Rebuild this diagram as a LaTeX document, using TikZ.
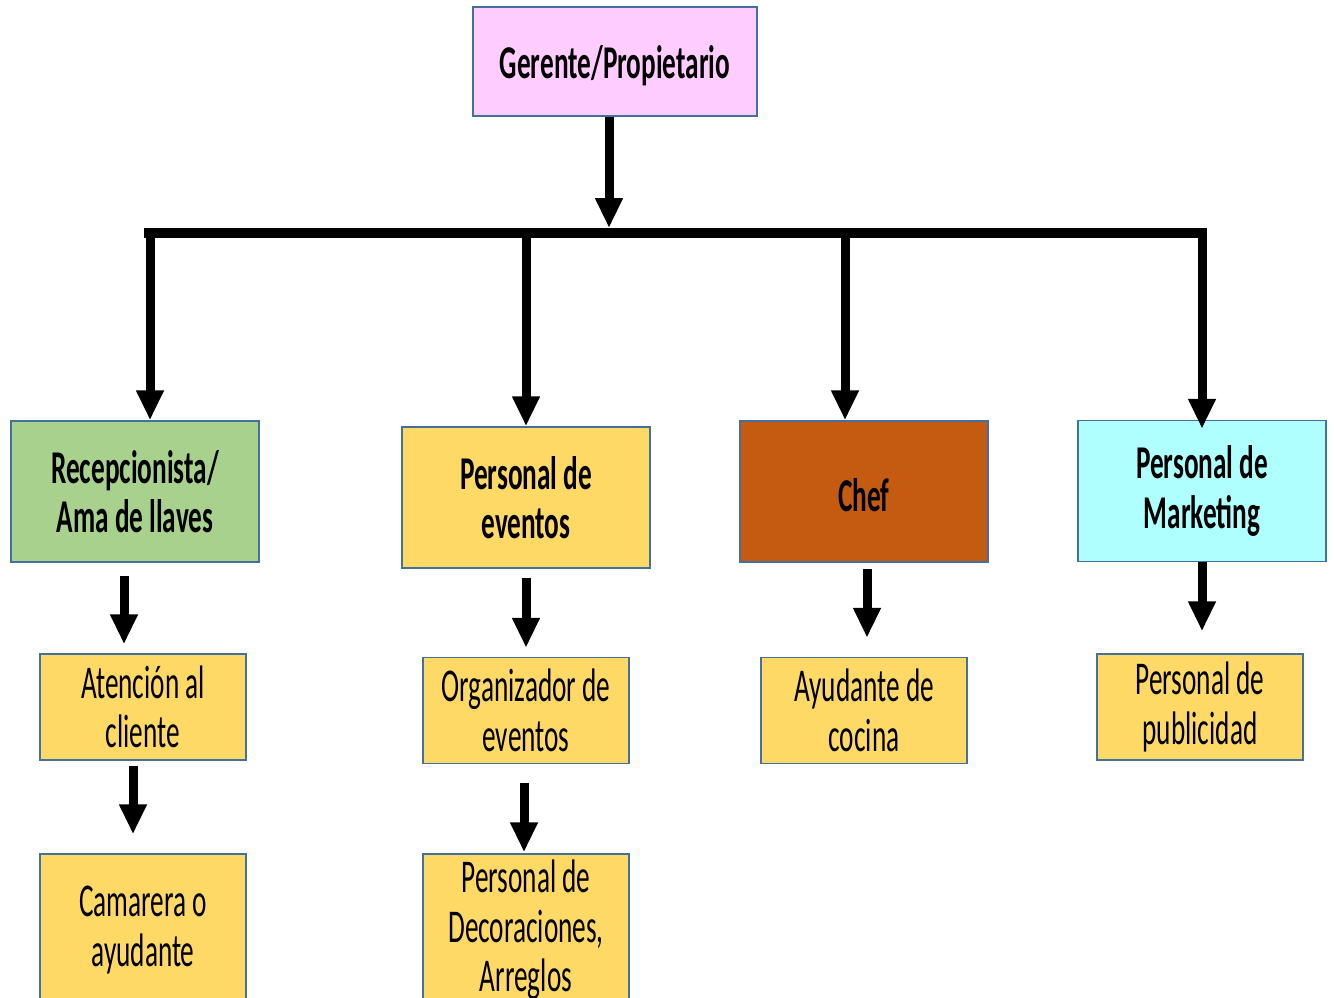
\documentclass[tikz,border=0pt]{standalone}
\usepackage{fontspec}
\setmainfont{Carlito}[FakeStretch=0.58]
\usepackage{xcolor}
\usetikzlibrary{arrows.meta}
\definecolor{edgeblue}{HTML}{41719C}
\definecolor{ownerpink}{HTML}{FFCCFF}
\definecolor{frontgreen}{HTML}{A9D18E}
\definecolor{staffyellow}{HTML}{FFD966}
\definecolor{chefbrown}{HTML}{C55A11}
\definecolor{mktcyan}{HTML}{AFFFFF}

\begin{document}
\begin{tikzpicture}[
  x=1pt, y=-1pt,
  >={Triangle[width=26pt,length=30pt]},
  box/.style={rectangle, draw=edgeblue, line width=1.5pt, inner sep=0pt, align=center,
    font=\fontsize{47}{49.5}\selectfont, execute at begin node={\rule{0pt}{41pt}}},
  head/.style={box, minimum width=248pt, minimum height=141pt, font=\fontsize{47}{49.5}\selectfont\bfseries},
  task/.style={box, fill=staffyellow, minimum width=206pt, minimum height=106pt},
  flow/.style={->, draw=black, line width=9pt},
  bus/.style={draw=black, line width=10pt}
]
  \useasboundingbox (0,0) rectangle (1334,997);
  \clip (0,0) rectangle (1334,997);

  \node[head, fill=ownerpink, minimum width=284pt, minimum height=109pt] (owner) at (615,61.5) {Gerente/Propietario};

  \node[head, fill=frontgreen] (recep) at (135,491.5) {Recepcionista/\\Ama de llaves};
  \node[head, fill=staffyellow] (events) at (526,497.5) {Personal de\\eventos};
  \node[head, fill=chefbrown] (chef) at (864,491.5) {Chef};
  \node[head, fill=mktcyan] (mkt) at (1202,491) {Personal de\\Marketing};

  \node[task] (guest) at (143,707) {Atención al\\cliente};
  \node[task] (planner) at (526,710.5) {Organizador de\\eventos};
  \node[task] (cook) at (864,710.5) {Ayudante de\\cocina};
  \node[task] (adverts) at (1200,707) {Personal de\\publicidad};

  \node[task, minimum height=152pt] (maid) at (143,930) {Camarera o\\ayudante};
  \node[task, minimum height=152pt] (decor) at (526,930) {Personal de\\Decoraciones,\\Arreglos};

  \coordinate (busL) at (144,233);
  \coordinate (busR) at (1207,233);
  \draw[bus] (busL) -- (busR);

  \draw[flow, shorten >=5pt] ([xshift=-6pt]owner.south) -- ([xshift=-6pt]owner.south |- busL);

  \draw[flow] ([xshift=15pt]recep.north |- busL) -- ([xshift=15pt]recep.north);
  \draw[flow] (events.north |- busL) -- (events.north);
  \draw[flow] ([xshift=-19pt]chef.north |- busL) -- ([xshift=-19pt]chef.north);
  \draw[flow, shorten >=-9pt] (mkt.north |- busL) -- (mkt.north);

  \draw[flow, shorten <=13pt, shorten >=9pt] ([xshift=-11pt]recep.south) -- ([xshift=-11pt]recep.south |- guest.north);
  \draw[flow, shorten <=5pt, shorten >=19pt] ([xshift=-10pt]guest.south) -- ([xshift=-10pt]maid.north);
  \draw[flow, shorten <=9pt, shorten >=9pt] (events.south) -- (planner.north);
  \draw[flow, shorten <=19pt, shorten >=1pt] ([xshift=-2pt]planner.south) -- ([xshift=-2pt]decor.north);
  \draw[flow, shorten <=6pt, shorten >=19pt] ([xshift=3pt]chef.south) -- ([xshift=3pt]cook.north);
  \draw[flow, shorten >=22pt] (mkt.south) -- (mkt.south |- adverts.north);
\end{tikzpicture}
\end{document}
